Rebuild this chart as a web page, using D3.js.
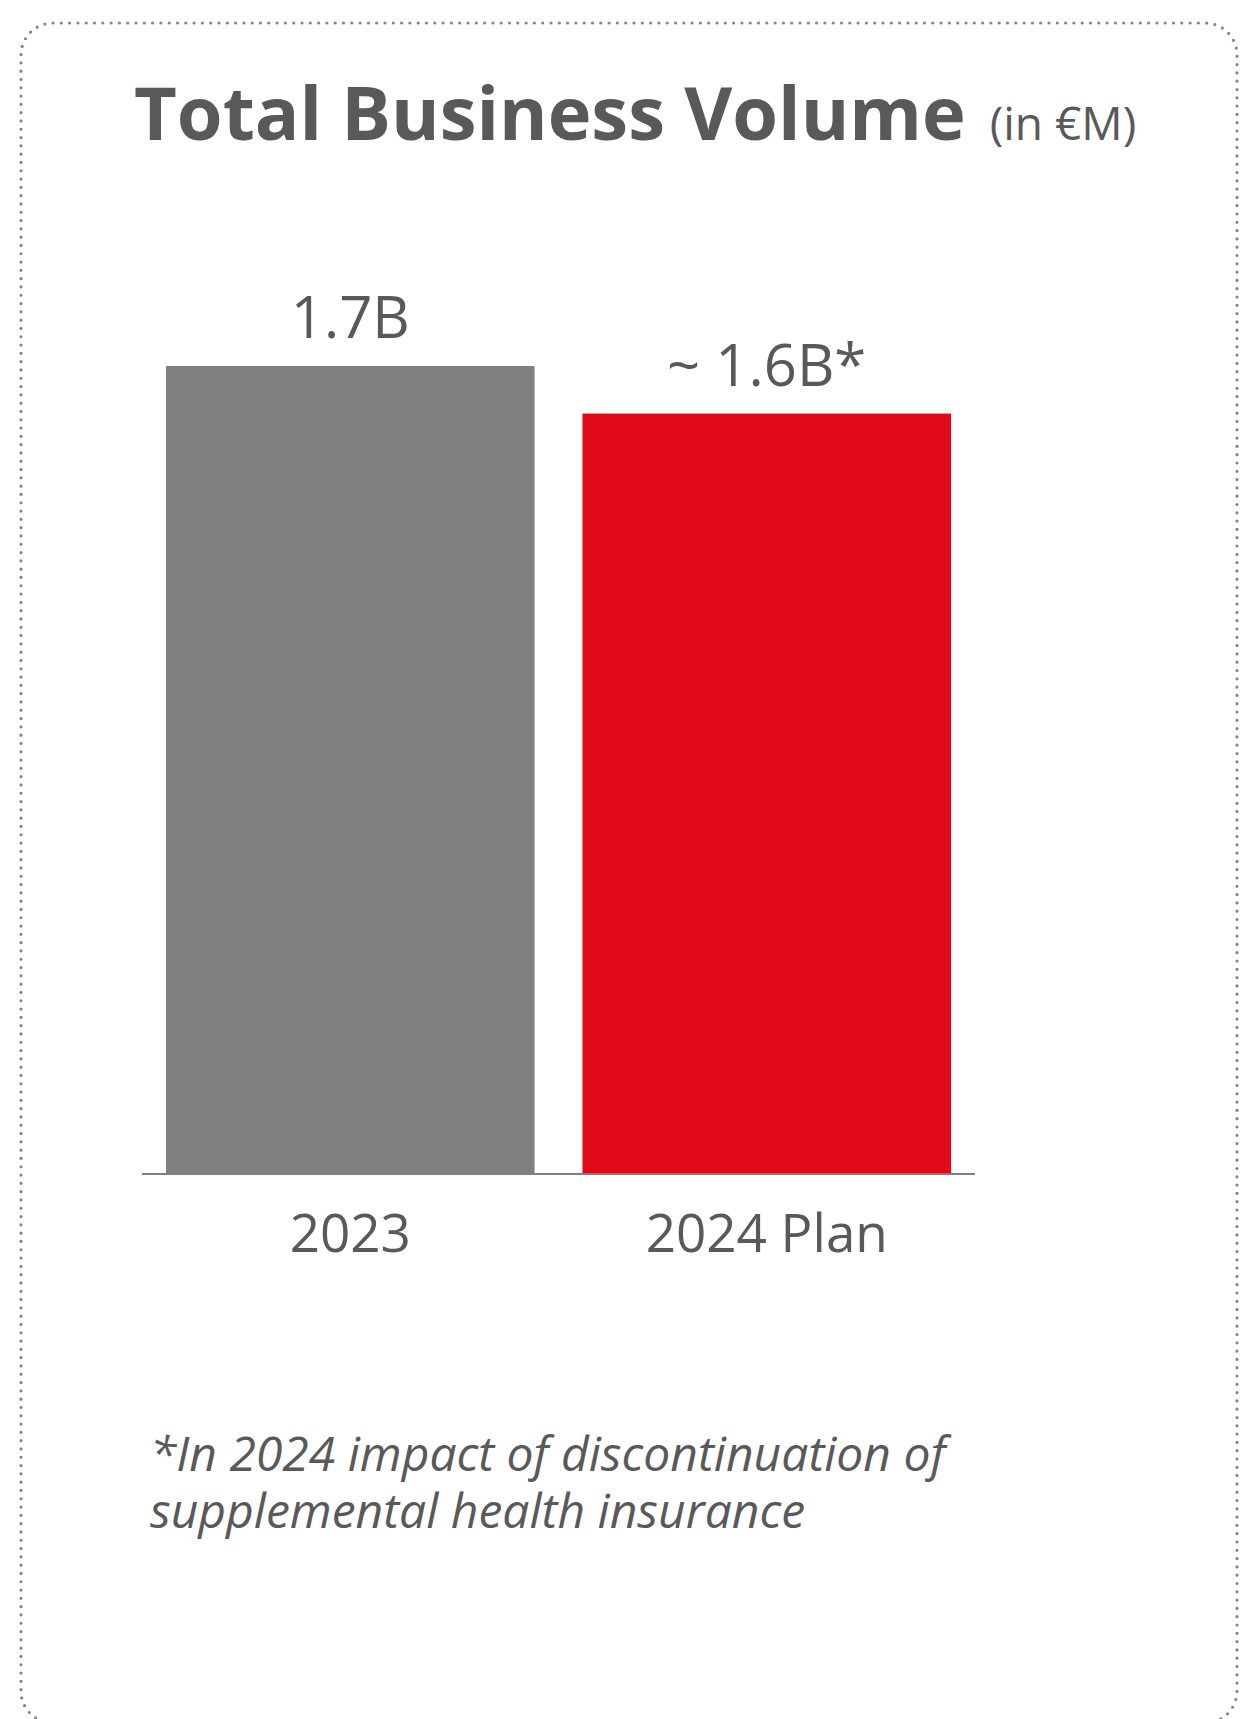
<!DOCTYPE html>
<html>
<head>
<meta charset="utf-8">
<script src="https://cdn.jsdelivr.net/npm/d3@7/dist/d3.min.js"></script>
<style>
  html, body { margin: 0; padding: 0; background: #ffffff; }
  svg { display: block; }
  text { font-family: "Open Sans", "Noto Sans", sans-serif; fill: #595959; }
</style>
</head>
<body>
<script>
// Chart data
const categories = ["2023", "2024 Plan"];
const values = [1.7, 1.6];               // billions of euros
const valueLabels = ["1.7B", "~ 1.6B*"];
const barColors = ["#808080", "#E10A19"];
const titleMain = "Total Business Volume";
const titleUnit = "(in €M)";
const footnoteLines = [
  "*In 2024 impact of discontinuation of",
  "supplemental health insurance"
];

const W = 1240, H = 1719;
const svg = d3.select("body").append("svg")
  .attr("width", W).attr("height", H);

// Dotted rounded frame (bottom edge runs just past the canvas)
svg.append("rect")
  .attr("x", 21).attr("y", 23)
  .attr("width", 1216).attr("height", 1700)
  .attr("rx", 32).attr("ry", 32)
  .attr("fill", "none")
  .attr("stroke", "#858585")
  .attr("stroke-width", 3.2)
  .attr("stroke-linecap", "round")
  .attr("stroke-dasharray", "0 8.3");

// Title
const title = svg.append("text")
  .attr("x", 134).attr("y", 140);
title.append("tspan")
  .attr("font-weight", 700)
  .attr("font-size", 74)
  .text(titleMain);
title.append("tspan")
  .attr("font-size", 46)
  .attr("dx", 24)
  .text(titleUnit);

// Scales
const x0 = 142, x1 = 975, baseY = 1174;
const x = d3.scaleBand()
  .domain(categories)
  .range([x0, x1])
  .paddingInner(0.115)
  .paddingOuter(0.0576);

const y = d3.scaleLinear()
  .domain([0, 1.7])
  .range([baseY, 366]);

const data = categories.map((c, i) => ({
  cat: c, value: values[i], label: valueLabels[i], color: barColors[i]
}));

// Bars
svg.append("g").selectAll("rect")
  .data(data)
  .join("rect")
  .attr("x", d => x(d.cat))
  .attr("y", d => y(d.value))
  .attr("width", x.bandwidth())
  .attr("height", d => y(0) - y(d.value))
  .attr("fill", d => d.color);

// Value labels
svg.append("g").selectAll("text")
  .data(data)
  .join("text")
  .attr("x", d => x(d.cat) + x.bandwidth() / 2)
  .attr("y", d => y(d.value) - 28)
  .attr("text-anchor", "middle")
  .attr("font-size", 58)
  .text(d => d.label);

// Category axis
const axis = svg.append("g")
  .attr("transform", `translate(0,${baseY})`)
  .call(d3.axisBottom(x).tickSize(0).tickPadding(78));
axis.select(".domain")
  .attr("stroke", "#808080")
  .attr("stroke-width", 2)
  .attr("d", `M${x0},0H${x1}`);
axis.selectAll(".tick text")
  .attr("font-size", 53)
  .attr("font-family", "'Open Sans', sans-serif")
  .attr("fill", "#595959")
  .attr("dy", 0);

// Footnote, one text block with a line per tspan
svg.append("text")
  .attr("x", 150)
  .attr("y", 1471)
  .attr("font-size", 48)
  .attr("font-style", "italic")
  .selectAll("tspan")
  .data(footnoteLines)
  .join("tspan")
  .attr("x", 150)
  .attr("dy", (d, i) => i === 0 ? 0 : 57)
  .text(d => d);
</script>
</body>
</html>
